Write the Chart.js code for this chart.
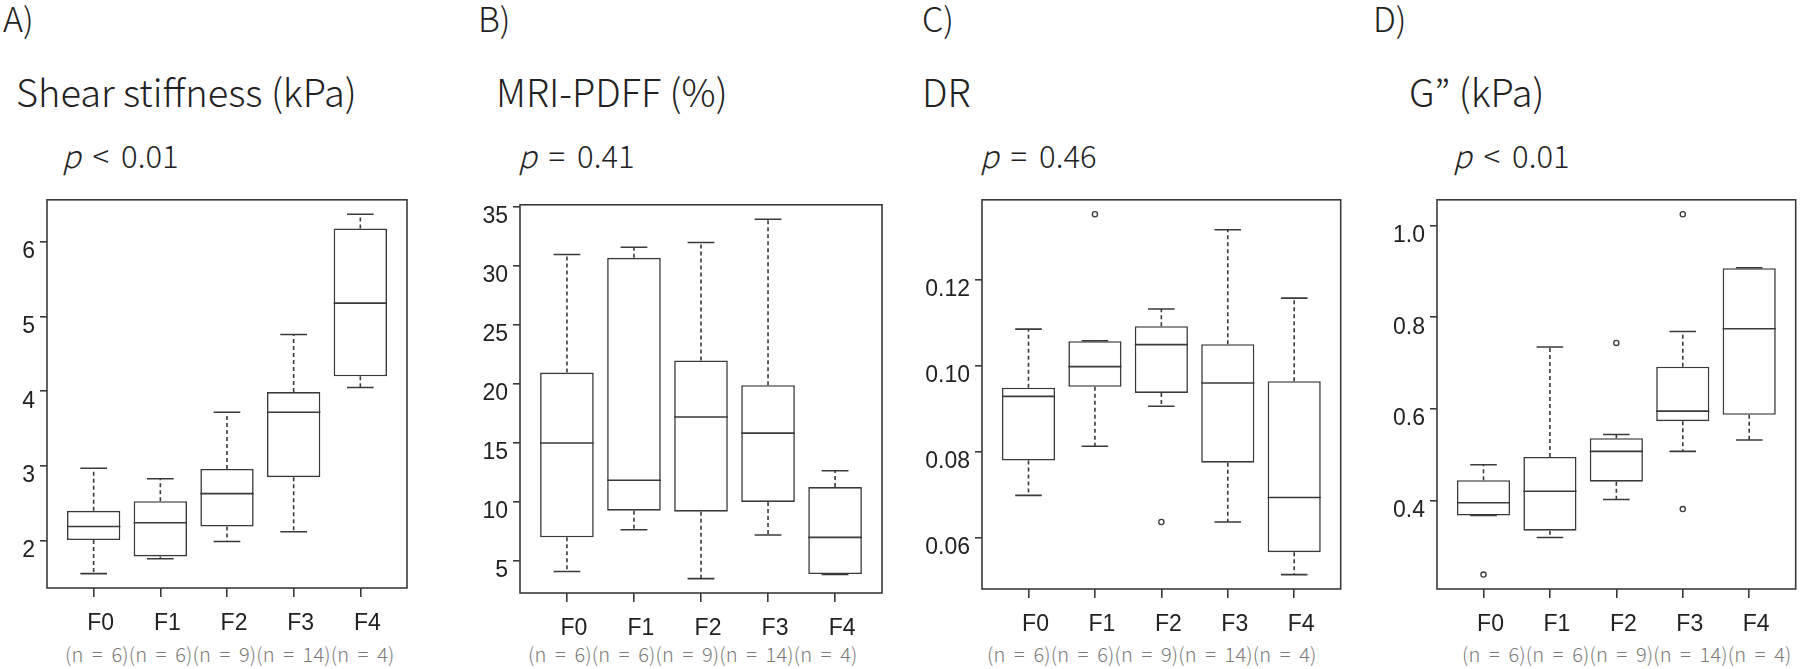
<!DOCTYPE html>
<html>
<head>
<meta charset="utf-8">
<script src="https://cdn.jsdelivr.net/npm/chart.js@4.4.1/dist/chart.umd.min.js"></script>
<style>
  body { margin: 0; background: #fff; }
  #wrap { position: relative; width: 1800px; height: 669px; overflow: hidden; background: #fff; }
  #wrap canvas { position: absolute; }
  .txt { position: absolute; white-space: nowrap; line-height: 1; color: #222;
         font-family: "Noto Sans CJK JP", "Noto Sans", sans-serif; font-weight: 300; }
  .letter { font-size: 34px; top: 1px; }
  .title { font-size: 38px; top: 72px; }
  .pval { font-size: 31px; top: 139px; word-spacing: 5px; }
  .nrow { font-size: 20px; top: 644px; color: #7a7a7a; letter-spacing: 0.15px; word-spacing: 4px; }
</style>
</head>
<body>
<div id="wrap"></div>
<script>
const groups = ['F0', 'F1', 'F2', 'F3', 'F4'];
const groupN = [6, 6, 9, 14, 4];

// A) Shear stiffness (kPa)
const stiffLow  = [1.56, 1.76, 1.99, 2.12, 4.05];
const stiffQ1   = [2.01, 1.79, 2.19, 2.85, 4.20];
const stiffMed  = [2.19, 2.24, 2.63, 3.72, 5.18];
const stiffQ3   = [2.40, 2.53, 2.96, 3.99, 6.18];
const stiffHigh = [2.97, 2.83, 3.72, 4.76, 6.37];
const stiffOut  = [];
const stiffTicks = [2, 3, 4, 5, 6];

// B) MRI-PDFF (%)
const pdffLow  = [4.1, 7.65, 3.5, 7.2, 3.85];
const pdffQ1   = [7.0, 9.26, 9.18, 10.0, 3.89];
const pdffMed  = [15.0, 11.84, 17.2, 15.84, 7.0];
const pdffQ3   = [20.97, 30.7, 22.0, 19.9, 11.26];
const pdffHigh = [30.98, 31.6, 32.0, 33.98, 12.65];
const pdffOut  = [];
const pdffTicks = [5, 10, 15, 20, 25, 30, 35];

// C) DR
const drLow  = [0.0699, 0.0813, 0.0906, 0.0637, 0.0515];
const drQ1   = [0.0780, 0.0951, 0.0937, 0.0775, 0.0567];
const drMed  = [0.0929, 0.0998, 0.1049, 0.0960, 0.0694];
const drQ3   = [0.0949, 0.1057, 0.1092, 0.1050, 0.0964];
const drHigh = [0.1085, 0.1058, 0.1132, 0.1316, 0.1157];
const drOut  = [[1, 0.1352], [2, 0.0637]];
const drTicks = [0.06, 0.08, 0.10, 0.12];

// D) G" (kPa)
const lossLow  = [0.367, 0.319, 0.402, 0.507, 0.532];
const lossQ1   = [0.367, 0.334, 0.441, 0.573, 0.587];
const lossMed  = [0.395, 0.420, 0.507, 0.595, 0.775];
const lossQ3   = [0.444, 0.495, 0.536, 0.692, 0.907];
const lossHigh = [0.478, 0.735, 0.544, 0.769, 0.908];
const lossOut  = [[0, 0.238], [2, 0.744], [3, 1.025], [3, 0.381]];
const lossTicks = [0.4, 0.6, 0.8, 1.0];

const ink = '#3a3a3a';
const tickFont = { family: '"Liberation Sans", Arial, sans-serif', size: 23 };

const panels = [
  { letter: 'A)', title: 'Shear stiffness (kPa)', p: '< 0.01', low: stiffLow, q1: stiffQ1, med: stiffMed, q3: stiffQ3, high: stiffHigh, out: stiffOut, ticks: stiffTicks, dec: 0,
    frame: [47, 193, 407, 588], letterX: 3, titleX: 16, pX: 62, nX: 65 },
  { letter: 'B)', title: 'MRI-PDFF (%)', p: '= 0.41', low: pdffLow, q1: pdffQ1, med: pdffMed, q3: pdffQ3, high: pdffHigh, out: pdffOut, ticks: pdffTicks, dec: 0,
    frame: [520, 198, 882, 593], letterX: 478, titleX: 496, pX: 518, nX: 528 },
  { letter: 'C)', title: 'DR', p: '= 0.46', low: drLow, q1: drQ1, med: drMed, q3: drQ3, high: drHigh, out: drOut, ticks: drTicks, dec: 2,
    frame: [982, 193, 1343, 589], letterX: 922, titleX: 922, pX: 980, nX: 987 },
  { letter: 'D)', title: 'G\u201D (kPa)', p: '< 0.01', low: lossLow, q1: lossQ1, med: lossMed, q3: lossQ3, high: lossHigh, out: lossOut, ticks: lossTicks, dec: 1,
    frame: [1437, 193, 1798, 589], letterX: 1373, titleX: 1409, pX: 1453, nX: 1462 }
];

// whiskers, caps, medians and frame, R boxplot style
const boxParts = {
  id: 'boxParts',
  afterDatasetsDraw(chart, args, opts) {
    const { ctx, chartArea, scales: { x, y } } = chart;
    ctx.save();
    ctx.strokeStyle = ink;
    ctx.lineWidth = 1.6;
    for (let i = 0; i < opts.med.length; i++) {
      const cx = x.getPixelForValue(i + 1);
      const halfBox = x.getPixelForValue(i + 1.4) - cx;
      const halfCap = x.getPixelForValue(i + 1.2) - cx;
      // dashed whiskers
      ctx.setLineDash([4, 3]);
      ctx.beginPath();
      ctx.moveTo(cx, y.getPixelForValue(opts.q3[i]));
      ctx.lineTo(cx, y.getPixelForValue(opts.high[i]));
      ctx.moveTo(cx, y.getPixelForValue(opts.q1[i]));
      ctx.lineTo(cx, y.getPixelForValue(opts.low[i]));
      ctx.stroke();
      ctx.setLineDash([]);
      ctx.beginPath();
      [opts.high[i], opts.low[i]].forEach(v => {
        const py = y.getPixelForValue(v);
        ctx.moveTo(cx - halfCap, py);
        ctx.lineTo(cx + halfCap, py);
      });
      const pm = y.getPixelForValue(opts.med[i]);
      ctx.moveTo(cx - halfBox, pm);
      ctx.lineTo(cx + halfBox, pm);
      ctx.stroke();
    }
    ctx.strokeRect(chartArea.left, chartArea.top, chartArea.right - chartArea.left, chartArea.bottom - chartArea.top);
    ctx.restore();
  }
};

const wrap = document.getElementById('wrap');

function addText(cls, left, html) {
  const d = document.createElement('div');
  d.className = 'txt ' + cls;
  d.style.left = left + 'px';
  d.innerHTML = html;
  wrap.appendChild(d);
}

const padL = 80, padT = 12, padR = 3, axisH = 60;

panels.forEach(pn => {
  addText('letter', pn.letterX, pn.letter);
  addText('title', pn.titleX, pn.title);
  addText('pval', pn.pX, '<i>p</i> ' + pn.p);
  addText('nrow', pn.nX, groupN.map(n => `(n = ${n})`).join(''));

  const [fl, ft, fr, fb] = pn.frame;
  const canvas = document.createElement('canvas');
  canvas.width = padL + (fr - fl) + padR;
  canvas.height = padT + (fb - ft) + axisH;
  canvas.style.left = (fl - padL) + 'px';
  canvas.style.top = (ft - padT) + 'px';
  wrap.appendChild(canvas);

  // R style axis range: data range plus 4% each side
  const all = pn.low.concat(pn.high, pn.out.map(o => o[1]));
  const lo = Math.min(...all), hi = Math.max(...all);
  const ext = (hi - lo) * 0.04;

  new Chart(canvas, {
    data: {
      datasets: [
        {
          type: 'bar',
          data: groups.map((g, i) => ({ x: i + 1, y: [pn.q1[i], pn.q3[i]] })),
          backgroundColor: '#fff',
          borderColor: ink,
          borderWidth: 1.6,
          borderSkipped: false,
          categoryPercentage: 0.8,
          barPercentage: 1.0
        },
        {
          type: 'scatter',
          data: pn.out.map(o => ({ x: o[0] + 1, y: o[1] })),
          pointRadius: 2.6,
          pointBorderWidth: 1.3,
          pointBackgroundColor: '#fff',
          pointBorderColor: ink
        }
      ]
    },
    options: {
      responsive: false,
      animation: false,
      devicePixelRatio: 1,
      layout: { padding: { left: 0, top: padT, right: padR, bottom: 0 } },
      plugins: {
        legend: { display: false },
        tooltip: { enabled: false },
        boxParts: pn
      },
      scales: {
        x: {
          type: 'linear',
          min: 0.3, max: 5.7,
          offset: false,
          afterBuildTicks: s => { s.ticks = groups.map((g, i) => ({ value: i + 1 })); },
          afterFit: s => { s.height = axisH; },
          grid: { display: true, drawOnChartArea: false, drawTicks: true, tickLength: 9, color: ink, lineWidth: 1.6, offset: false },
          border: { display: false },
          ticks: { autoSkip: false, maxRotation: 0, color: '#222', font: tickFont, padding: 13, labelOffset: 7,
                   callback: v => groups[v - 1] }
        },
        y: {
          min: lo - ext, max: hi + ext,
          afterBuildTicks: s => { s.ticks = pn.ticks.map(v => ({ value: v })); },
          afterFit: s => { s.width = padL; },
          grid: { display: true, drawOnChartArea: false, drawTicks: true, tickLength: 7, color: ink, lineWidth: 1.6 },
          border: { display: false },
          ticks: { autoSkip: false, color: '#222', font: tickFont, padding: 5, labelOffset: 10,
                   callback: v => v.toFixed(pn.dec) }
        }
      }
    },
    plugins: [boxParts]
  });
});
</script>
</body>
</html>
